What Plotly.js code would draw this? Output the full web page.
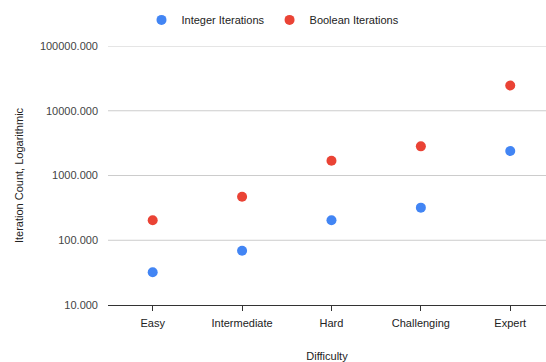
<!DOCTYPE html>
<html>
<head>
<meta charset="utf-8">
<script src="https://cdn.plot.ly/plotly-3.0.1.min.js"></script>
<style>html,body{margin:0;padding:0;background:#fff;}#chart{width:546px;height:362px;}</style>
</head>
<body>
<div id="chart"></div>
<script>
const categories = ["Easy", "Intermediate", "Hard", "Challenging", "Expert"];
const integerIterations = [32, 69, 204, 319, 2390];
const booleanIterations = [204, 471, 1690, 2820, 24600];
const yTickValues = [10, 100, 1000, 10000, 100000];

const FONT = "Arial, 'Liberation Sans', sans-serif";

const traces = [
  {
    x: categories, y: integerIterations, name: "Integer Iterations",
    type: "scatter", mode: "markers",
    marker: {color: "#4285F4", size: 10}
  },
  {
    x: categories, y: booleanIterations, name: "Boolean Iterations",
    type: "scatter", mode: "markers",
    marker: {color: "#EA4335", size: 10}
  }
];

const gridShapes = yTickValues.slice(1).map(v => ({
  type: "line", xref: "paper", yref: "y", x0: 0, x1: 1,
  y0: v, y1: v,
  line: {color: "#cccccc", width: 1}, layer: "below"
}));

const layout = {
  width: 546, height: 362,
  margin: {l: 108, r: 0, t: 46, b: 57},
  paper_bgcolor: "#fff", plot_bgcolor: "#fff",
  font: {family: FONT, size: 11, color: "#444"},
  showlegend: true,
  legend: {
    orientation: "h",
    xref: "container", x: 0.5, xanchor: "center",
    yref: "container", y: 0.945, yanchor: "middle",
    font: {family: FONT, size: 11, color: "#222"},
    itemwidth: 30
  },
  shapes: gridShapes,
  xaxis: {
    type: "category",
    range: [-0.5, 4.4],
    showgrid: false, zeroline: false,
    showline: true, linecolor: "#333333", linewidth: 1,
    ticks: "outside", ticklen: 5, tickcolor: "#333333", tickwidth: 1,
    ticklabelstandoff: 3,
    tickfont: {family: FONT, size: 11, color: "#222"},
    title: {text: "Difficulty", font: {family: FONT, size: 11, color: "#222"}, standoff: 26}
  },
  yaxis: {
    type: "log",
    range: [1, 5],
    tickvals: yTickValues,
    tickformat: ".3f",
    showgrid: false,
    zeroline: false, showline: false,
    ticks: "", ticklabelstandoff: 9,
    tickfont: {family: FONT, size: 11, color: "#444"},
    title: {text: "Iteration Count, Logarithmic", font: {family: FONT, size: 11, color: "#222"}, standoff: 14}
  }
};

Plotly.newPlot("chart", traces, layout, {displayModeBar: false});
</script>
</body>
</html>
